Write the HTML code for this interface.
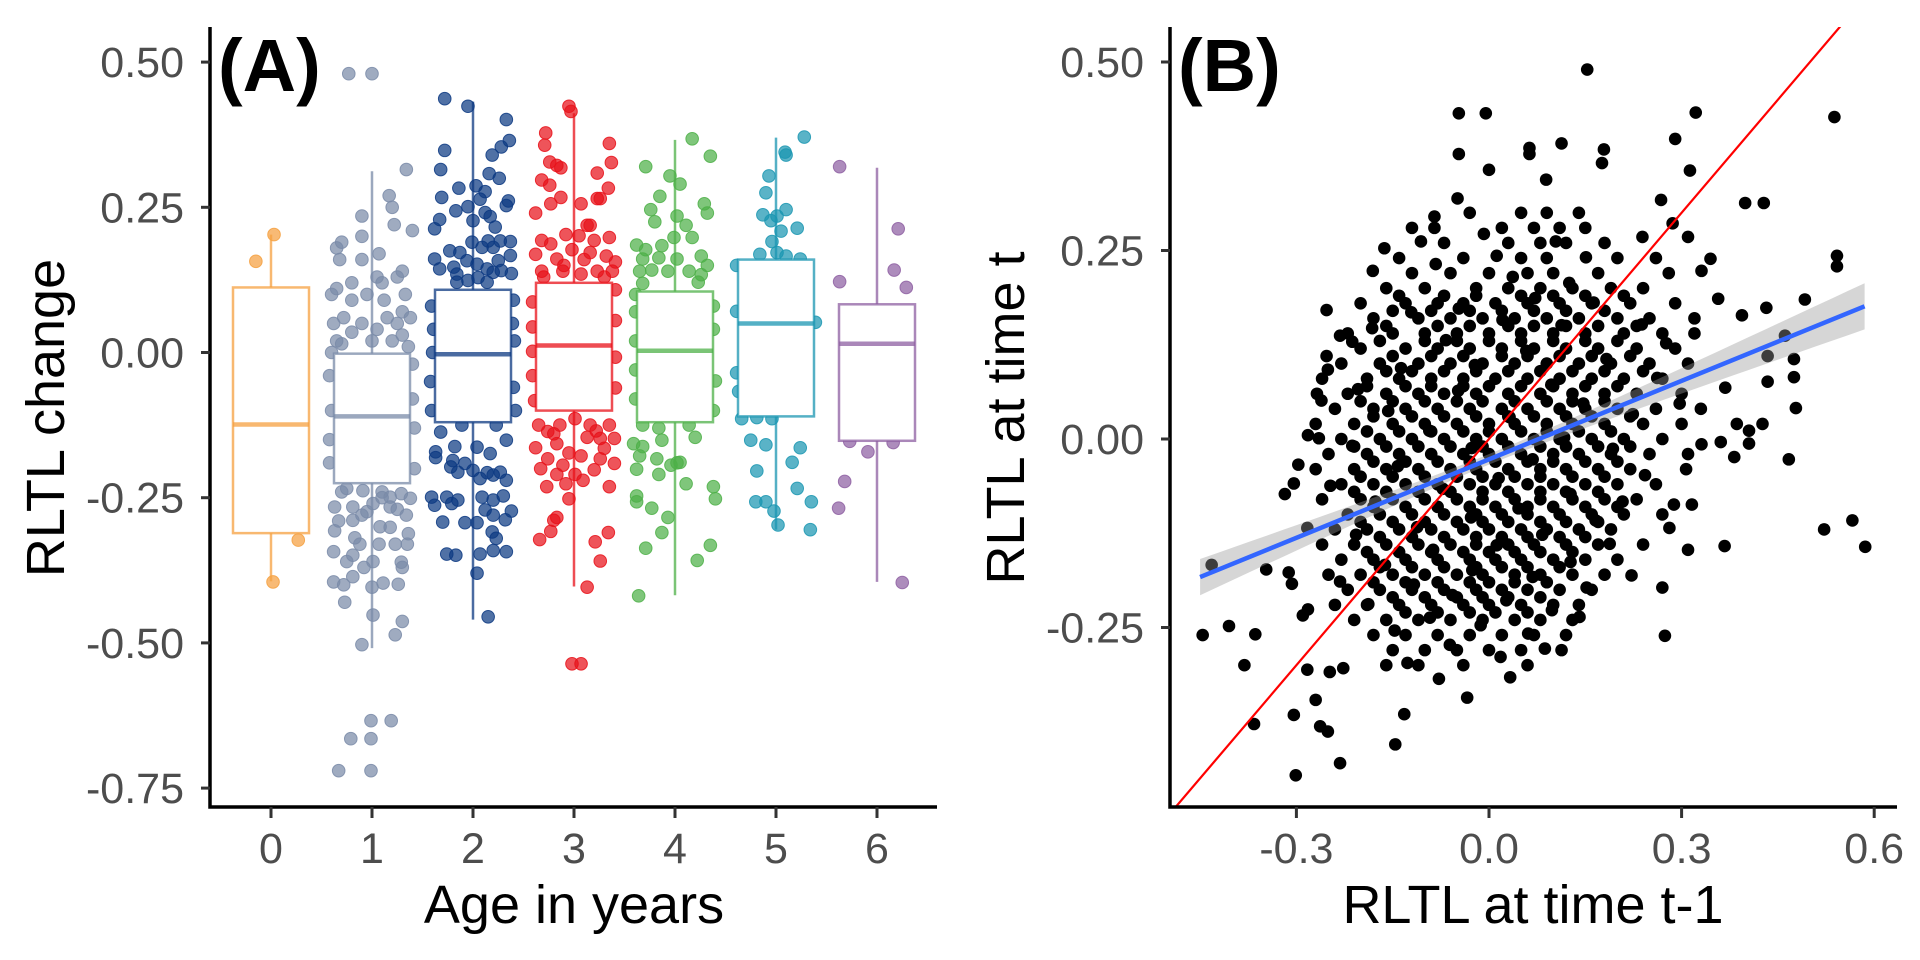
<!DOCTYPE html>
<html><head><meta charset="utf-8"><style>
html,body{margin:0;padding:0;background:#fff;}
svg{display:block;font-family:"Liberation Sans",Arial,sans-serif;}
</style></head><body>
<svg id="fig" width="1920" height="960" viewBox="0 0 1920 960">
<rect width="1920" height="960" fill="#fff"/>
<defs><clipPath id="clipB"><rect x="1170" y="27" width="730" height="780"/></clipPath></defs>
<g id="panelA"></g>
<g id="panelB"></g>
</svg>
<script>
// ---------- Panel A data ----------
const ageCategories = ["0","1","2","3","4","5","6"];
const ageColors = ["#F5A040","#7A8BA8","#0D3A82","#E8121A","#4DB048","#1B96B2","#8E5FA2"];
const boxQ1 = [-0.311,-0.225,-0.12,-0.10,-0.12,-0.11,-0.152];
const boxMedian = [-0.124,-0.11,-0.003,0.012,0.003,0.05,0.015];
const boxQ3 = [0.112,-0.002,0.108,0.12,0.105,0.16,0.083];
const whiskerLow = [-0.394,-0.509,-0.46,-0.403,-0.418,-0.305,-0.395];
const whiskerHigh = [0.203,0.312,0.432,0.412,0.366,0.37,0.318];
const yTicksA = [0.50,0.25,0.00,-0.25,-0.50,-0.75];
const yTickLabelsA = ["0.50","0.25","0.00","-0.25","-0.50","-0.75"];
// points per group: [jitter offset (category units), value]
const pts0 = [[0.03,0.203],[-0.15,0.157],[0.27,-0.323],[0.02,-0.395]];
const pts1 = [[-0.23,0.48],[0,0.48],[0.34,0.315],[0.17,0.27],[0.2,0.25],[-0.1,0.235],[0.22,0.22],[0.4,0.21],[-0.3,0.19],[-0.35,0.18],[-0.1,0.2],[0.07,0.17],[-0.1,0.16],[0.3,0.14],[0.25,0.13],[0.05,0.13],[-0.2,0.12],[0.1,0.12],[-0.35,0.11],[-0.4,0.1],[-0.2,0.09],[0.3,0.07],[0.38,0.06],[0.15,0.06],[0.25,0.05],[-0.38,0.05],[-0.1,0.05],[0.05,0.04],[-0.2,0.035],[0.3,0.03],[-0.35,0.02],[-0.3,0.015],[0,0.02],[0.2,0.02],[0.36,0.01],[-0.4,0],[0.4,-0.02],[-0.42,-0.04],[0.4,-0.08],[-0.4,-0.1],[-0.42,-0.15],[0.42,-0.13],[0.42,-0.2],[-0.42,-0.19],
[-0.25,-0.234],[-0.09,-0.238],[-0.37,-0.266],[-0.19,-0.266],[0.01,-0.26],[0.18,-0.249],[0.29,-0.243],[0.38,-0.251],[-0.19,-0.289],[-0.05,-0.274],[0.18,-0.266],[0.34,-0.28],[-0.37,-0.307],[-0.17,-0.319],[0.18,-0.301],[0.23,-0.33],[0.36,-0.312],[-0.38,-0.343],[-0.19,-0.349],[0.01,-0.36],[0.29,-0.361],[-0.38,-0.395],[-0.28,-0.4],[-0.19,-0.386],[0,-0.404],[0.11,-0.397],[0.26,-0.399],[-0.27,-0.43],[0.01,-0.452],[0.3,-0.463],[0.23,-0.486],[-0.1,-0.503],[-0.01,-0.634],[0.19,-0.634],[-0.21,-0.665],[-0.01,-0.665],[-0.33,-0.72],[-0.01,-0.72],[-0.3,-0.24],[0.1,-0.25],[-0.1,-0.28],[0.25,-0.27],[0.35,-0.33],[-0.25,-0.36],[-0.12,-0.33],[0.08,-0.3],[-0.32,0.16],[0.12,0.09],[-0.05,0.1],[0.33,0.1],[-0.28,0.06],[0.1,-0.24],[-0.33,-0.29],[0.07,-0.33],[0.3,-0.37],[-0.08,-0.37]];
const pts2 = [[-0.28,0.437],[-0.05,0.424],[0.33,0.401],[0.36,0.365],[0.28,0.354],[0.19,0.34],[-0.28,0.348],[-0.32,0.315],[0.16,0.308],[0.26,0.3],[-0.14,0.283],[0.03,0.287],[0.12,0.277],[-0.31,0.267],[0.07,0.264],[0.35,0.261],[0.33,0.253],[-0.17,0.244],[-0.05,0.251],[0.12,0.241],[0.17,0.234],[-0.33,0.229],[-0.38,0.213],[0,0.227],[0.22,0.216],[-0.01,0.19],[0.15,0.192],[0.27,0.192],[0.37,0.191],[-0.23,0.175],[-0.13,0.172],[0.09,0.181],[0.2,0.181],[-0.38,0.161],[-0.33,0.144],[-0.19,0.147],[-0.06,0.158],[0.04,0.152],[0.14,0.144],[0.25,0.158],[0.37,0.167],[0.38,0.136],[-0.16,0.135],[-0.05,0.124],[0.05,0.129],[0.2,0.138],[0.28,0.141],[-0.16,0.121],[0.14,0.121],
[-0.41,0.08],[-0.4,0],[-0.42,-0.05],[-0.41,-0.1],[0.4,0.09],[0.41,0.02],[0.4,-0.06],[0.42,-0.1],[0.39,0.05],[-0.39,0.04],
[-0.32,-0.137],[-0.11,-0.125],[0.23,-0.125],[-0.18,-0.162],[0.04,-0.163],[0.17,-0.174],[0.33,-0.151],[-0.37,-0.171],[-0.37,-0.181],[-0.2,-0.186],[-0.08,-0.191],[0,-0.203],[0.14,-0.207],[0.27,-0.206],[0.33,-0.22],[-0.22,-0.197],[-0.15,-0.206],[0.07,-0.217],[0.2,-0.211],[-0.41,-0.249],[-0.38,-0.263],[-0.26,-0.249],[-0.21,-0.26],[-0.15,-0.254],[0.09,-0.249],[0.12,-0.271],[0.2,-0.254],[0.3,-0.247],[0.38,-0.273],[0.2,-0.28],[0.32,-0.288],[-0.3,-0.292],[-0.08,-0.293],[0.04,-0.293],[0.19,-0.309],[0.23,-0.32],[-0.26,-0.347],[-0.17,-0.349],[0.07,-0.347],[0.2,-0.341],[0.33,-0.343],[0.04,-0.38],[0.15,-0.455]];
const pts3 = [[-0.05,0.424],[-0.03,0.415],[-0.28,0.378],[-0.29,0.357],[0.35,0.36],[-0.24,0.328],[-0.17,0.322],[-0.13,0.318],[0.37,0.327],[0.23,0.309],[-0.32,0.297],[-0.24,0.288],[0.34,0.283],[0.07,0.256],[0.26,0.265],[0.23,0.265],[-0.23,0.256],[-0.13,0.267],[-0.38,0.24],[0.13,0.219],[0.16,0.219],[-0.32,0.193],[-0.23,0.187],[-0.08,0.203],[0.05,0.201],[0.2,0.193],[0.35,0.198],[-0.38,0.169],[-0.17,0.161],[-0.02,0.177],[0.16,0.172],[0.32,0.166],[0.41,0.156],[-0.32,0.14],[-0.11,0.14],[0.07,0.135],[0.23,0.14],[0.38,0.14],
[-0.41,0.087],[-0.41,0.044],[-0.41,0.002],[-0.41,-0.04],[-0.39,-0.083],[0.41,0.108],[0.41,0.055],[0.41,-0.008],[0.41,-0.061],
[-0.35,-0.125],[-0.26,-0.136],[-0.14,-0.125],[0.01,-0.114],[0.16,-0.125],[0.35,-0.125],[-0.38,-0.164],[-0.17,-0.157],[-0.05,-0.173],[0.13,-0.146],[0.26,-0.148],[0.4,-0.148],[-0.26,-0.183],[-0.11,-0.194],[0.07,-0.178],[0.26,-0.183],[0.4,-0.191],[-0.17,-0.21],[0.01,-0.21],[0.2,-0.202],[-0.27,-0.231],[-0.08,-0.226],[0.09,-0.22],[0.35,-0.231],[-0.05,-0.252],[-0.2,-0.289],[-0.17,-0.284],[-0.34,-0.322],[-0.23,-0.308],[0.21,-0.326],[0.34,-0.31],[0.26,-0.359],[0.13,-0.404],[-0.02,-0.536],[0.07,-0.536],[-0.1,0.15],[0.1,0.16],[-0.3,0.13],[0.3,0.13],[-0.2,-0.14],[0.22,-0.135],[-0.33,-0.2],[0.3,-0.165]];
const pts4 = [[0.17,0.368],[0.35,0.338],[-0.29,0.32],[-0.05,0.304],[0.05,0.29],[-0.15,0.269],[0.29,0.256],[0.32,0.24],[-0.24,0.246],[0.02,0.235],[0.11,0.219],[-0.2,0.225],[-0.01,0.198],[0.17,0.198],[-0.38,0.185],[-0.29,0.177],[-0.13,0.184],[-0.32,0.161],[-0.16,0.163],[0.02,0.161],[0.26,0.166],[0.32,0.15],[-0.35,0.14],[-0.23,0.142],[-0.07,0.14],[0.14,0.14],[0.26,0.134],[-0.32,0.119],[0.23,0.121],
[-0.39,0.1],[-0.39,0.07],[-0.39,0.02],[-0.39,-0.03],[-0.39,-0.08],[0.38,0.08],[0.38,0.04],[0.4,-0.049],[0.38,-0.1],
[-0.32,-0.125],[-0.16,-0.13],[0.14,-0.125],[-0.41,-0.157],[-0.32,-0.162],[-0.13,-0.151],[0.2,-0.146],[-0.35,-0.178],[-0.18,-0.183],[0.02,-0.19],[0.05,-0.189],[-0.38,-0.201],[-0.16,-0.21],[-0.04,-0.194],[0.11,-0.226],[0.38,-0.231],[-0.38,-0.247],[-0.23,-0.268],[-0.07,-0.284],[-0.38,-0.257],[0.4,-0.252],[-0.13,-0.31],[-0.29,-0.337],[0.35,-0.332],[0.22,-0.358],[-0.36,-0.419]];
const pts5 = [[0.28,0.371],[0.09,0.345],[0.1,0.34],[-0.07,0.304],[-0.1,0.275],[0.1,0.246],[-0.13,0.237],[-0.05,0.227],[0.01,0.235],[0.21,0.214],[0.05,0.209],[-0.04,0.191],[-0.16,0.169],[0.01,0.172],[0.1,0.166],[0.24,0.161],
[-0.39,0.15],[-0.39,0.071],[0.39,0.052],[-0.39,-0.035],[-0.37,-0.067],
[-0.34,-0.114],[-0.19,-0.112],[-0.04,-0.114],[-0.25,-0.151],[-0.1,-0.159],[0.24,-0.164],[0.16,-0.189],[-0.19,-0.204],[0.21,-0.234],[-0.2,-0.257],[-0.1,-0.257],[0.35,-0.257],[-0.02,-0.273],[0.02,-0.297],[0.34,-0.305]];
const pts6 = [[-0.37,0.32],[0.21,0.213],[-0.37,0.122],[0.17,0.142],[0.29,0.112],[-0.27,-0.153],[0.16,-0.155],[-0.09,-0.171],[-0.32,-0.222],[-0.38,-0.268],[0.25,-0.396]];
const groupPoints = [pts0,pts1,pts2,pts3,pts4,pts5,pts6];

// ---------- Panel B data ----------
const xTicksB = [-0.3,0.0,0.3,0.6];
const xTickLabelsB = ["-0.3","0.0","0.3","0.6"];
const yTicksB = [0.50,0.25,0.00,-0.25];
const yTickLabelsB = ["0.50","0.25","0.00","-0.25"];
const fitSlope = [0.347];
const fitIntercept = [-0.027];
const fitRange = [-0.45,0.585];
const fitSE = [0.007,0.051];
const outerB = [[0.153,0.49],[-0.047,0.432],[-0.005,0.432],[0.322,0.433],[0.538,0.427],[-0.047,0.378],[0.063,0.386],[0.063,0.378],[0.113,0.392],[0.179,0.384],[0.176,0.366],[0.29,0.398],[0,0.357],[0.313,0.356],[0.089,0.344],[0.399,0.313],[0.428,0.313],[-0.049,0.319],[0.268,0.317],[-0.085,0.295],[-0.085,0.28],[0.286,0.286],[0.239,0.268],[0.31,0.268],[-0.163,0.253],[0.542,0.243],[0.542,0.229],[0.345,0.239],[-0.181,0.223],[0.331,0.223],[0.357,0.186],[0.492,0.185],[0.394,0.164],[0.432,0.174],[-0.253,0.171],[0.461,0.137],[0.434,0.11],[0.475,0.106],[0.368,0.068],[0.434,0.076],[0.475,0.082],[0.478,0.041],[0.386,0.02],[0.405,0.011],[0.426,0.02],[0.361,-0.004],[0.382,-0.024],[0.405,-0.006],[0.467,-0.027],[0.331,-0.007],[0.307,-0.04],[0.288,-0.087],[0.316,-0.087],[0.367,-0.142],[0.522,-0.12],[0.566,-0.108],[0.586,-0.143],[0.31,-0.147],[0.27,-0.197],[0.274,-0.261],[0.222,-0.181],[0.113,-0.28],[0.033,-0.316],[-0.034,-0.343],[-0.132,-0.365],[-0.146,-0.405],[-0.232,-0.43],[-0.301,-0.446],[-0.304,-0.366],[-0.366,-0.378],[-0.263,-0.381],[-0.251,-0.388],[-0.27,-0.346],[-0.283,-0.306],[-0.248,-0.309],[-0.227,-0.304],[-0.381,-0.3],[-0.446,-0.26],[-0.405,-0.248],[-0.364,-0.259],[-0.29,-0.234],[-0.282,-0.226],[-0.432,-0.167],[-0.347,-0.173],[-0.312,-0.177],[-0.307,-0.192],[-0.318,-0.073],[-0.304,-0.059],[-0.282,0.005],[-0.265,0.001],[-0.297,-0.034],[-0.253,0.11],[-0.232,0.137],[-0.251,0.092],[-0.213,0.129],[-0.268,0.06],[-0.261,0.051]];
const rowsB = [
[0.30,[-0.03,0.05,0.09,0.14]],[0.28,[-0.12,0.02,0.07,0.11,0.15]],[0.26,[-0.07,0.03,0.08,0.12,0.18]],[0.24,[-0.14,-0.04,0.05,0.09,0.2,0.26]],[0.22,[-0.12,-0.06,0,0.06,0.1,0.17,0.28]],[0.20,[-0.16,-0.1,-0.02,0.03,0.08,0.13,0.19,0.24]],[0.18,[-0.2,-0.13,-0.08,-0.04,0.01,0.06,0.11,0.16,0.22,0.29]],[0.16,[-0.18,-0.11,-0.06,-0.01,0.04,0.09,0.14,0.2,0.25,0.32]],[0.14,[-0.22,-0.15,-0.1,-0.05,0,0.05,0.1,0.15,0.21,0.27,0.32]],[0.12,[-0.2,-0.13,-0.08,-0.03,0.02,0.07,0.12,0.17,0.23,0.29]],[0.10,[-0.23,-0.17,-0.11,-0.06,-0.01,0.04,0.09,0.14,0.19,0.25,0.31]],[0.08,[-0.26,-0.19,-0.14,-0.09,-0.04,0.01,0.06,0.11,0.16,0.21,0.27]],[0.06,[-0.22,-0.16,-0.11,-0.07,-0.02,0.03,0.08,0.13,0.18,0.23,0.3]],[0.04,[-0.24,-0.18,-0.13,-0.08,-0.03,0.02,0.06,0.11,0.15,0.2,0.26,0.33]],[0.02,[-0.27,-0.21,-0.15,-0.1,-0.05,0,0.04,0.09,0.13,0.18,0.24,0.3]],[0.00,[-0.23,-0.17,-0.12,-0.07,-0.02,0.02,0.07,0.11,0.16,0.21,0.27]],[-0.02,[-0.25,-0.19,-0.14,-0.09,-0.04,0,0.05,0.1,0.14,0.19,0.25,0.31]],[-0.04,[-0.27,-0.21,-0.16,-0.11,-0.06,-0.02,0.03,0.08,0.12,0.17,0.22]],[-0.06,[-0.23,-0.18,-0.13,-0.08,-0.03,0.01,0.06,0.1,0.15,0.2,0.26]],[-0.08,[-0.26,-0.2,-0.15,-0.1,-0.05,-0.01,0.04,0.08,0.13,0.18,0.23]],[-0.10,[-0.22,-0.17,-0.12,-0.07,-0.02,0.02,0.06,0.11,0.16,0.21,0.27]],[-0.12,[-0.24,-0.19,-0.14,-0.09,-0.04,0,0.05,0.09,0.14,0.19]],[-0.14,[-0.26,-0.21,-0.16,-0.11,-0.06,-0.02,0.03,0.07,0.12,0.17,0.24]],[-0.16,[-0.23,-0.18,-0.13,-0.08,-0.03,0.01,0.05,0.1,0.15,0.2]],[-0.18,[-0.25,-0.2,-0.15,-0.1,-0.05,-0.01,0.04,0.08,0.13,0.18]],[-0.20,[-0.22,-0.17,-0.12,-0.07,-0.02,0.02,0.06,0.11,0.16]],[-0.22,[-0.24,-0.19,-0.14,-0.09,-0.04,0,0.05,0.1,0.14]],[-0.24,[-0.21,-0.16,-0.11,-0.06,-0.01,0.04,0.08,0.13]],[-0.26,[-0.18,-0.13,-0.08,-0.03,0.02,0.07,0.12]],[-0.28,[-0.15,-0.1,-0.05,0,0.05]],[-0.30,[-0.16,-0.11,-0.04,0.06]],
[0.19,[-0.14,-0.07,-0.02,0.05,0.1,0.15,0.21]],[0.17,[-0.15,-0.09,-0.03,0.02,0.07,0.12,0.18]],[0.15,[-0.16,-0.08,-0.03,0.03,0.07,0.12,0.17,0.23]],[0.13,[-0.17,-0.1,-0.05,0,0.05,0.1,0.15,0.2]],[0.11,[-0.15,-0.09,-0.04,0.02,0.06,0.11,0.16,0.22]],[0.09,[-0.16,-0.12,-0.07,-0.02,0.03,0.08,0.13,0.18,0.24]],[0.07,[-0.19,-0.13,-0.09,-0.04,0,0.05,0.1,0.15,0.2]],[0.05,[-0.2,-0.15,-0.1,-0.05,-0.01,0.04,0.09,0.13,0.18]],[0.03,[-0.18,-0.12,-0.07,-0.02,0.03,0.07,0.12,0.16,0.22]],[0.01,[-0.19,-0.14,-0.09,-0.04,0,0.05,0.09,0.14,0.19]],[-0.01,[-0.21,-0.16,-0.11,-0.06,-0.01,0.03,0.08,0.12,0.17,0.22]],[-0.03,[-0.18,-0.13,-0.08,-0.03,0.01,0.06,0.1,0.15,0.2]],[-0.05,[-0.2,-0.15,-0.1,-0.05,-0.01,0.04,0.08,0.13,0.18]],[-0.07,[-0.21,-0.16,-0.11,-0.06,-0.01,0.03,0.08,0.12,0.17]],[-0.09,[-0.18,-0.13,-0.08,-0.03,0.01,0.06,0.1,0.15,0.2]],[-0.11,[-0.2,-0.15,-0.1,-0.05,-0.01,0.03,0.08,0.12,0.17]],[-0.13,[-0.17,-0.12,-0.07,-0.02,0.02,0.06,0.11,0.15]],[-0.15,[-0.19,-0.14,-0.09,-0.04,0,0.04,0.08,0.13]],[-0.17,[-0.17,-0.12,-0.07,-0.02,0.02,0.06,0.11]],[-0.19,[-0.18,-0.13,-0.08,-0.03,0,0.04,0.09]],[-0.21,[-0.15,-0.1,-0.05,-0.01,0.03,0.08]],[-0.23,[-0.13,-0.08,-0.03,0.01,0.06]]];
// extra irregular interior points
const extraB = [[0.012,0.243],[0.037,0.215],[-0.083,0.232],[0.125,0.207],[-0.047,0.173],[0.072,0.187],[0.163,0.181],[-0.121,0.168],[0.021,0.158],[-0.182,0.147],[0.113,0.151],[0.238,0.152],[-0.067,0.131],[0.058,0.117],[0.183,0.106],[-0.137,0.094],[-0.022,0.098],[0.097,0.072],[0.262,0.081],[-0.204,0.066],[-0.048,0.064],[0.147,0.047],[0.224,0.033],[-0.157,0.037],[0.032,0.029],[-0.093,0.011],[0.117,0.002],[0.193,-0.013],[-0.213,-0.009],[-0.027,-0.012],[0.068,-0.027],[0.243,-0.048],[-0.142,-0.036],[0.015,-0.052],[-0.247,-0.062],[-0.072,-0.066],[0.127,-0.073],[0.208,-0.083],[-0.177,-0.083],[0.046,-0.092],[-0.028,-0.104],[0.166,-0.108],[-0.112,-0.117],[0.083,-0.127],[-0.207,-0.127],[0.012,-0.141],[0.188,-0.139],[-0.087,-0.147],[0.127,-0.163],[-0.162,-0.167],[-0.026,-0.174],[0.068,-0.183],[-0.117,-0.193],[0.152,-0.197],[-0.057,-0.207],[0.027,-0.214],[-0.188,-0.219],[0.098,-0.227],[-0.092,-0.237],[-0.013,-0.247],[0.061,-0.258],[-0.147,-0.254],[-0.061,-0.273],[0.018,-0.289],[-0.127,-0.297],[-0.078,-0.318],[0.087,-0.278],[0.141,-0.236],[-0.232,-0.189],[-0.283,-0.118],[0.281,-0.118],[0.297,0.047],[0.276,0.127],[-0.008,0.272],[0.104,0.262],[-0.106,0.262],[0.151,0.241]];

const NS = "http://www.w3.org/2000/svg";
function mk(parent, tag, attrs, text){
  const e = document.createElementNS(NS, tag);
  for (const k in attrs) e.setAttribute(k, attrs[k]);
  if (text !== undefined) e.textContent = text;
  parent.appendChild(e);
  return e;
}

// ---------- Panel A ----------
const A = document.getElementById('panelA');
const axA = {left:210, right:937, top:27, bottom:807};
function xA(i){ return 271 + i*101; }
function yA(v){ return 352.5 - v*580.8; }

ageCategories.forEach((c,i)=>{
  const g = mk(A,'g',{});
  
  
  groupPoints[i].forEach(p=>{
    const pt = mk(g,'circle',{cx:xA(i)+p[0]*101, cy:yA(p[1]), r:6.3, fill:ageColors[i], 'fill-opacity':0.72, stroke:ageColors[i], 'stroke-opacity':0.85, 'stroke-width':1});
    
    
  });
});
ageCategories.forEach((c,i)=>{
  const g = mk(A,'g',{stroke:ageColors[i], 'stroke-opacity':0.75, fill:'none'});
  
  
  const cx = xA(i), hw = 38;
  const w1 = mk(g,'line',{x1:cx,x2:cx,y1:yA(whiskerHigh[i]),y2:yA(boxQ3[i]),'stroke-width':2.5});
  
  
  const w2 = mk(g,'line',{x1:cx,x2:cx,y1:yA(boxQ1[i]),y2:yA(whiskerLow[i]),'stroke-width':2.5});
  
  
  const bx = mk(g,'rect',{x:cx-hw,y:yA(boxQ3[i]),width:hw*2,height:yA(boxQ1[i])-yA(boxQ3[i]),fill:'#fff','fill-opacity':1,'stroke-width':2.5});
  
  
  const md = mk(g,'line',{x1:cx-hw,x2:cx+hw,y1:yA(boxMedian[i]),y2:yA(boxMedian[i]),'stroke-width':4.5});
  
  
});
const axlA = mk(A,'path',{d:`M${axA.left},${axA.top} V${axA.bottom} H${axA.right}`,stroke:'#000','stroke-width':3.5,fill:'none'});


yTicksA.forEach((v,i)=>{
  const t = mk(A,'line',{x1:axA.left-9,x2:axA.left,y1:yA(v),y2:yA(v),stroke:'#333','stroke-width':3});
  
  
  const l = mk(A,'text',{x:184,y:yA(v)+15,'text-anchor':'end','font-size':43,fill:'#4d4d4d'}, yTickLabelsA[i]);
  
  
});
ageCategories.forEach((c,i)=>{
  const t = mk(A,'line',{x1:xA(i),x2:xA(i),y1:axA.bottom,y2:axA.bottom+11,stroke:'#333','stroke-width':3});
  
  
  const l = mk(A,'text',{x:xA(i),y:863,'text-anchor':'middle','font-size':43,fill:'#4d4d4d'}, c);
  
  
});
const xtA = mk(A,'text',{x:574,y:923,'text-anchor':'middle','font-size':54,fill:'#000'},'Age in years');


const ytA = mk(A,'text',{x:0,y:0,'text-anchor':'middle','font-size':54,fill:'#000',transform:'translate(64,418) rotate(-90)'},'RLTL change');


const tagA = mk(A,'text',{x:218,y:91,'font-size':74,'font-weight':'bold',fill:'#000'},'(A)');



// ---------- Panel B ----------
const B = document.getElementById('panelB');
const axB = {left:1170, right:1897, top:27, bottom:807};
function xB(v){ return 1489 + v*642; }
function yB(v){ return 439 - v*754; }
const ptsG = mk(B,'g',{fill:'#000'});


outerB.forEach(p=>{
  const c = mk(ptsG,'circle',{cx:xB(p[0]),cy:yB(p[1]),r:6.3});
  
  
});
rowsB.forEach(r=>{
  r[1].forEach(xv=>{
    const c = mk(ptsG,'circle',{cx:xB(xv),cy:yB(r[0]),r:6.3});
    
    
  });
});
extraB.forEach(p=>{
  const c = mk(ptsG,'circle',{cx:xB(p[0]),cy:yB(p[1]),r:6.3});
  
  
});
(function(){
  const xm = 0.0, n = 40, up = [], lo = [];
  for (let k=0;k<=n;k++){
    const xv = fitRange[0] + (fitRange[1]-fitRange[0])*k/n;
    const yv = fitIntercept[0] + fitSlope[0]*xv;
    const se = Math.sqrt(fitSE[0]*fitSE[0] + Math.pow(fitSE[1]*(xv-xm),2));
    up.push(`${xB(xv).toFixed(1)},${yB(yv+se).toFixed(1)}`);
    lo.unshift(`${xB(xv).toFixed(1)},${yB(yv-se).toFixed(1)}`);
  }
  const band = mk(B,'polygon',{points:up.concat(lo).join(' '),fill:'#999','fill-opacity':0.4});
  
  
})();
const ident = mk(B,'line',{x1:xB(-0.6),y1:yB(-0.6),x2:xB(0.6),y2:yB(0.6),stroke:'#ff0000','stroke-width':2.2,'clip-path':'url(#clipB)'});


const fit = mk(B,'line',{x1:xB(fitRange[0]),y1:yB(fitIntercept[0]+fitSlope[0]*fitRange[0]),x2:xB(fitRange[1]),y2:yB(fitIntercept[0]+fitSlope[0]*fitRange[1]),stroke:'#3366FF','stroke-width':4.5});


const axlB = mk(B,'path',{d:`M${axB.left},${axB.top} V${axB.bottom} H${axB.right}`,stroke:'#000','stroke-width':3.5,fill:'none'});


yTicksB.forEach((v,i)=>{
  const t = mk(B,'line',{x1:axB.left-9,x2:axB.left,y1:yB(v),y2:yB(v),stroke:'#333','stroke-width':3});
  
  
  const l = mk(B,'text',{x:1144,y:yB(v)+15,'text-anchor':'end','font-size':43,fill:'#4d4d4d'}, yTickLabelsB[i]);
  
  
});
xTicksB.forEach((v,i)=>{
  const t = mk(B,'line',{x1:xB(v),x2:xB(v),y1:axB.bottom,y2:axB.bottom+11,stroke:'#333','stroke-width':3});
  
  
  const l = mk(B,'text',{x:xB(v),y:863,'text-anchor':'middle','font-size':43,fill:'#4d4d4d'}, xTickLabelsB[i]);
  
  
});
const xtB = mk(B,'text',{x:1533,y:923,'text-anchor':'middle','font-size':54,fill:'#000'},'RLTL at time t-1');


const ytB = mk(B,'text',{x:0,y:0,'text-anchor':'middle','font-size':54,fill:'#000',transform:'translate(1024,418) rotate(-90)'},'RLTL at time t');


const tagB = mk(B,'text',{x:1178,y:91,'font-size':74,'font-weight':'bold',fill:'#000'},'(B)');


</script>
</body></html>
